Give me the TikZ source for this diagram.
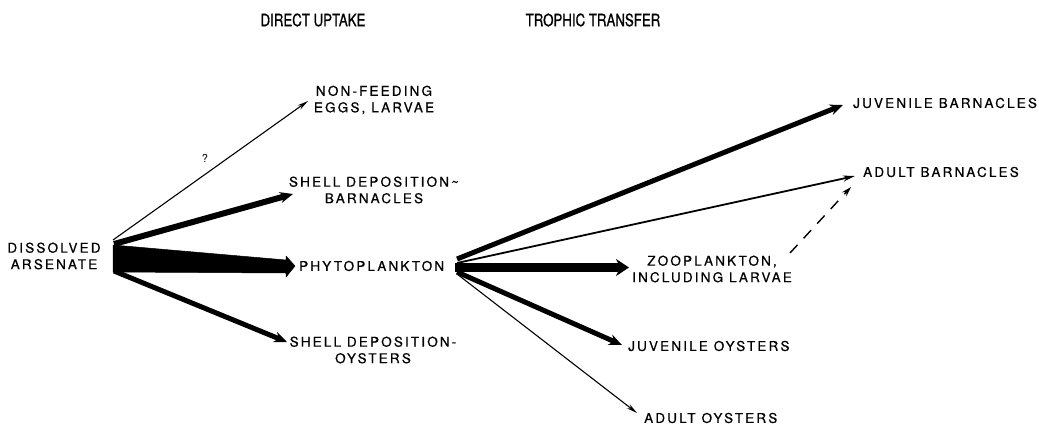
\documentclass[tikz,border=0pt]{standalone}
\usepackage{fontspec}
\setmainfont{TeX Gyre Heros}
\newfontfamily\lab[LetterSpace=16,FakeBold=0.6]{TeX Gyre Heros}
\newfontfamily\hdr[FakeStretch=0.78,FakeBold=0.8]{TeX Gyre Heros}
\usetikzlibrary{arrows.meta}
\begin{document}
\begin{tikzpicture}[x=1pt,y=-1pt,
  lbl/.style={font=\lab\fontsize{13.5}{16.5}\selectfont, inner sep=0pt, align=center},
  lblw/.style={lbl, anchor=west},
  hd/.style={font=\hdr\fontsize{17}{19}\selectfont, inner sep=0pt},
  thinarr/.style={line width=1.1pt, -{Stealth[length=11pt,width=5pt]}},
  medarr/.style={line width=1.8pt, -{Stealth[length=12pt,width=6pt]}},
  thickarr/.style={line width=5pt, -{Stealth[length=13pt,width=11pt]}},
  dasharr/.style={line width=1.4pt, dash pattern=on 11pt off 9pt, -{Stealth[length=10pt,width=6pt]}},
  fatfill/.style={fill=black, draw=black, line width=0.5pt, line join=round}
]
\useasboundingbox (0,0) rectangle (1039,426);

% headers
\node[hd] (h1) at (313,20) {DIRECT UPTAKE};
\node[hd] (h2) at (593,20) {TROPHIC TRANSFER};

% labels
\node[lbl] (da) at (54,256) {DISSOLVED\\ARSENATE};
\node[lbl] (nf) at (374,100) {NON-FEEDING\\EGGS, LARVAE};
\node[lbl] (sb) at (374,190) {SHELL DEPOSITION\textasciitilde\\BARNACLES};
\node[lblw] (ph) at (299,266) {PHYTOPLANKTON};
\node[lbl] (so) at (373,350) {SHELL DEPOSITION-\\OYSTERS};
\node[lblw] (jb) at (853,103) {JUVENILE BARNACLES};
\node[lblw] (ab) at (863,172) {ADULT BARNACLES};
\node[lbl] (zp) at (712,269) {ZOOPLANKTON,\\INCLUDING LARVAE};
\node[lblw] (jo) at (628,346) {JUVENILE OYSTERS};
\node[lblw] (ao) at (644,418) {ADULT OYSTERS};
\node[font=\fontsize{11}{12}\selectfont, inner sep=0pt] (q) at (205,158) {?};

% source and target points
\coordinate (dTop) at (113,240);
\coordinate (dSB) at (114,244);
\coordinate (dBot) at (114,271);
\coordinate (tNF) at (308,101);
\coordinate (tSB) at (293,194);
\coordinate (tSO) at (287,342);
\coordinate (pTop) at (457,259);
\coordinate (pAB) at (457,263);
\coordinate (pMid) at (455,267.5);
\coordinate (pJO) at (457,272);
\coordinate (pAO) at (457,274);
\coordinate (tZP) at (629,267.5);
\coordinate (tJB) at (843,105);
\coordinate (tAB) at (855,176);
\coordinate (tJO) at (622,345);
\coordinate (tAO) at (637,413);
\coordinate (zS) at (790,253);
\coordinate (tZA) at (851,187);

% direct uptake
\draw[thinarr] (dTop) -- (tNF);
\draw[thickarr, line width=6pt] (dSB) -- (tSB);
\fill[fatfill] (113,245) -- (286,260) -- (286,256) -- (295,266) -- (286,277) -- (286,273) -- (113,272) -- cycle;
\draw[thickarr] (dBot) -- (tSO);

% trophic transfer
\draw[thickarr] (pTop) -- (tJB);
\draw[medarr] (pAB) -- (tAB);
\draw[line width=9pt, -{Stealth[length=13pt,width=17pt]}] (pMid) -- (tZP);
\draw[thickarr] (pJO) -- (tJO);
\draw[thinarr] (pAO) -- (tAO);
\draw[dasharr] (zS) -- (tZA);
\end{tikzpicture}
\end{document}
